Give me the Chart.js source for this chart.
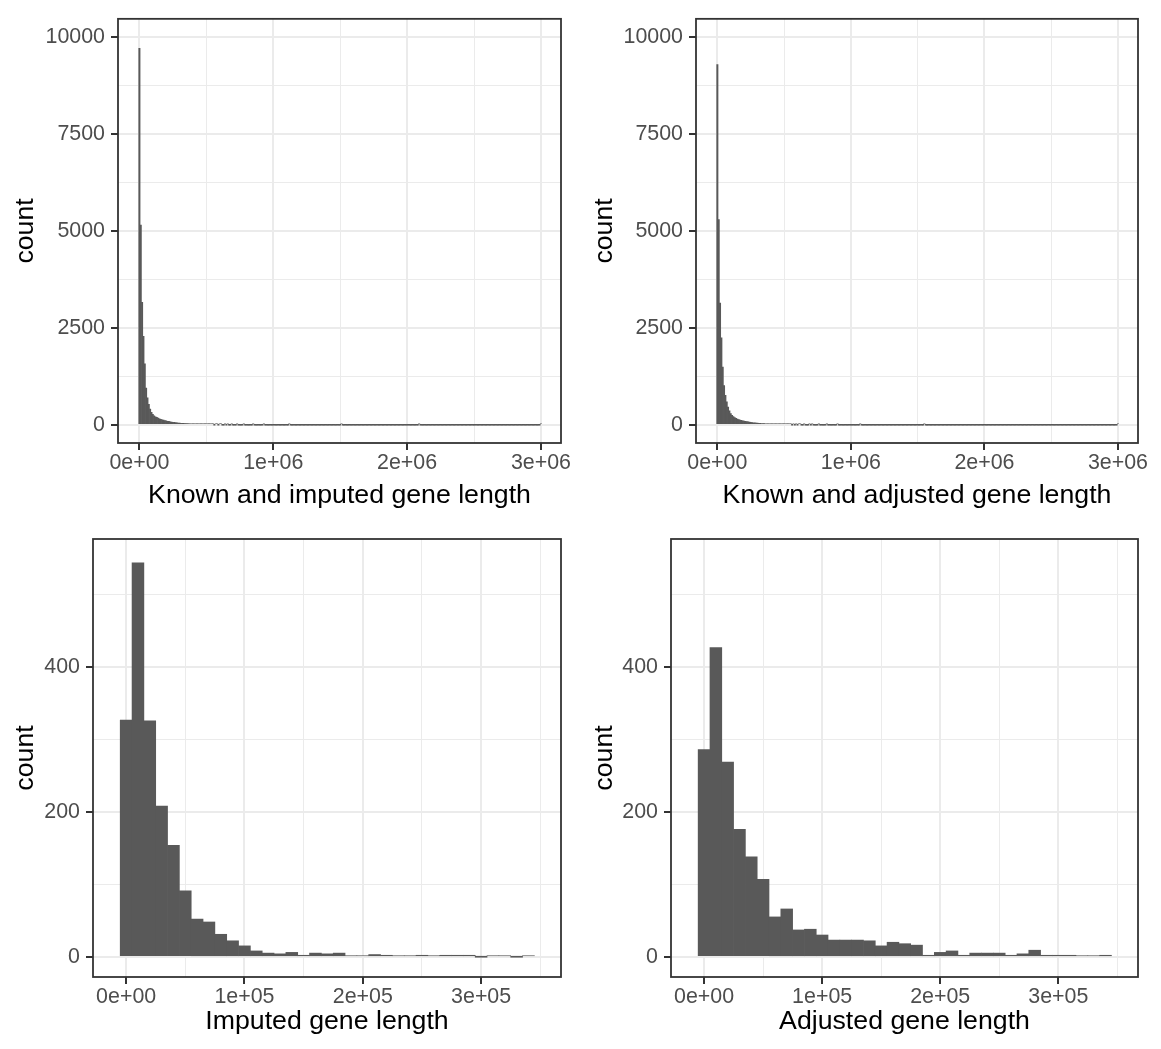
<!DOCTYPE html>
<html><head><meta charset="utf-8">
<script src="https://cdn.jsdelivr.net/npm/chart.js@4/dist/chart.umd.min.js"></script>
<style>
html,body{margin:0;padding:0;background:#ffffff;}
#wrap{position:relative;width:1161px;height:1049px;overflow:hidden;}
.cell{position:absolute;}
canvas{display:block;}
</style></head><body>
<div id="wrap">
  <div class="cell" style="left:0px;top:0px;width:580px;height:520px"><canvas id="c1" width="580" height="520"></canvas></div>
  <div class="cell" style="left:580px;top:0px;width:581px;height:520px"><canvas id="c2" width="581" height="520"></canvas></div>
  <div class="cell" style="left:0px;top:520px;width:580px;height:529px"><canvas id="c3" width="580" height="529"></canvas></div>
  <div class="cell" style="left:580px;top:520px;width:581px;height:529px"><canvas id="c4" width="581" height="529"></canvas></div>
</div>
<script>
// ---------------- DATA ----------------
// histogram bins: centred at multiples of binWidth, starting at 0
const binWidth = 10000;
const binStart = 0;

// Known and imputed gene length (bins 0 .. 300, i.e. 0 .. 3e6)
const countsKnownImputed = [
  9710,5150,3160,2280,1570,945,695,527,405,318,270,232,205,190,170,152,140,128,118,108,
  100,92,86,78,72,66,60,56,50,46,44,40,38,35,33,30,28,26,24,22,
  20,18,16,8,5,4,3,3,2,3,1,2,2,1,1,2,0,1,1,0,
  1,1,0,0,1,0,1,0,0,1,0,0,0,1,0,0,0,0,1,0,
  0,0,0,0,0,1,0,0,0,0,0,0,0,1,0,0,0,0,0,0,
  0,0,0,0,0,0,0,0,0,0,0,0,1,0,0,0,0,0,0,0,
  0,0,0,0,0,0,0,0,0,0,0,0,0,0,0,0,0,0,0,0,
  0,0,0,0,0,0,0,0,0,0,0,1,0,0,0,0,0,0,0,0,
  0,0,0,0,0,0,0,0,0,0,0,0,0,0,0,0,0,0,0,0,
  0,0,0,0,0,0,0,0,0,0,0,0,0,0,0,0,0,0,0,0,
  0,0,0,0,0,0,0,0,0,1,0,0,0,0,0,0,0,0,0,0,
  0,0,0,0,0,0,0,0,0,0,0,0,0,0,0,0,0,0,0,0,
  0,0,0,0,0,0,0,0,0,0,0,0,0,0,0,0,0,0,0,0,
  0,0,0,0,0,0,0,0,0,0,0,0,0,0,0,0,0,0,0,0,
  0,0,0,0,0,0,0,0,0,0,0,0,0,0,0,0,0,0,0,0,
  1
];

// Known and adjusted gene length (bins 0 .. 300)
const countsKnownAdjusted = [
  9290,5290,3140,2240,1490,1010,760,590,455,360,290,245,212,185,165,148,135,122,112,102,
  95,88,80,74,68,62,57,52,48,44,41,38,35,32,30,28,26,24,21,19,
  17,15,10,6,4,4,3,2,3,2,1,2,1,1,2,1,0,1,0,1,
  0,1,1,0,0,1,0,0,0,1,0,1,0,0,0,0,1,0,0,0,
  0,0,1,0,0,0,0,0,0,0,1,0,0,0,0,0,0,0,0,0,
  0,0,0,0,0,0,0,1,0,0,0,0,0,0,0,0,0,0,0,0,
  0,0,0,0,0,0,0,0,0,0,0,0,0,0,0,0,0,0,0,0,
  0,0,0,0,0,0,0,0,0,0,0,0,0,0,0,1,0,0,0,0,
  0,0,0,0,0,0,0,0,0,0,0,0,0,0,0,0,0,0,0,0,
  0,0,0,0,0,0,0,0,0,0,0,0,0,0,0,0,0,0,0,0,
  0,0,0,0,0,0,0,0,0,0,0,0,0,0,0,0,0,0,0,0,
  0,0,0,0,0,0,0,0,0,0,0,0,0,0,0,0,0,0,0,0,
  0,0,0,0,0,0,0,0,0,0,0,0,0,0,0,0,0,0,0,0,
  0,0,0,0,0,0,0,0,0,0,0,0,0,0,0,0,0,0,0,0,
  0,0,0,0,0,0,0,0,0,0,0,0,0,0,0,0,0,0,0,0,
  1
];

// Imputed gene length (bins 0 .. 34, i.e. 0 .. 340000)
const countsImputed = [327,544,326,208,154,91,52,48,31,22,15,8,5,4,6,2,5,4,5,1,1,3,2,1,1,2,1,2,2,2,0,1,1,0,1];

// Adjusted gene length (bins 0 .. 34)
const countsAdjusted = [286,427,269,176,138,107,55,66,37,38,30,23,23,23,22,15,20,18,16,2,6,8,2,5,5,5,2,4,9,2,2,2,1,1,2];

// axis titles
const xTitles = ["Known and imputed gene length","Known and adjusted gene length","Imputed gene length","Adjusted gene length"];
const yTitle = "count";

// tick values
const topXMajor = [0,1000000,2000000,3000000];
const topXMinor = [500000,1500000,2500000];
const topYMajor = [0,2500,5000,7500,10000];
const topYMinor = [1250,3750,6250,8750];
const botXMajor = [0,100000,200000,300000];
const botXMinor = [50000,150000,250000,350000];
const botYMajor = [0,200,400];
const botYMinor = [100,300,500];

// ---------------- STYLE / HELPERS ----------------
const FONT = "'Liberation Sans', Arial, Helvetica, sans-serif";
const BAR = '#595959';

function sci(v){
  if (v === 0) return '0e+00';
  const e = Math.floor(Math.log10(Math.abs(v)) + 1e-9);
  const m = Math.round(v / Math.pow(10, e) * 100) / 100;
  return m + 'e' + (e < 0 ? '-' : '+') + String(Math.abs(e)).padStart(2, '0');
}

const panelBorder = {
  id: 'panelBorder',
  afterDraw(chart){
    const {ctx, chartArea: a} = chart;
    ctx.save();
    ctx.strokeStyle = '#333333';
    ctx.lineWidth = 1.8;
    ctx.strokeRect(a.left, a.top, a.right - a.left, a.bottom - a.top);
    ctx.restore();
  }
};

function axisCfg(o){
  const all = o.major.concat(o.minor).sort((a,b)=>a-b);
  const isMajor = v => o.major.indexOf(v) >= 0;
  return {
    type: 'linear',
    min: o.min, max: o.max,
    offset: false,
    afterBuildTicks: s => { s.ticks = all.map(v => ({value: v})); },
    afterFit: s => { if (o.horizontal) s.height = o.size; else s.width = o.size; },
    border: {display: false},
    grid: {
      offset: false,
      color: '#EBEBEB',
      lineWidth: c => (c.tick && isMajor(c.tick.value)) ? 2 : 1,
      tickColor: c => (c.tick && isMajor(c.tick.value)) ? '#333333' : 'rgba(0,0,0,0)',
      tickWidth: 2,
      tickLength: 7,
      drawTicks: true
    },
    ticks: {
      autoSkip: false,
      maxRotation: 0, minRotation: 0,
      padding: o.tickPad,
      color: '#4D4D4D',
      font: {family: FONT, size: 21.4},
      callback: v => isMajor(v) ? o.fmt(v) : ''
    },
    title: {
      display: true,
      text: o.title,
      color: '#000000',
      font: {family: FONT, size: 26.7},
      padding: o.titlePad
    }
  };
}

function makeHist(id, counts, cfg){
  const pts = counts.map((c, i) => ({x: binStart + i * binWidth, y: c}));
  return new Chart(document.getElementById(id), {
    type: 'bar',
    data: {datasets: [{
      data: pts,
      backgroundColor: BAR,
      borderWidth: 0,
      barPercentage: 1.0,
      categoryPercentage: 1.0,
      minBarLength: 1
    }]},
    options: {
      responsive: false,
      animation: false,
      devicePixelRatio: 1,
      layout: {padding: cfg.padding},
      plugins: {legend: {display: false}, tooltip: {enabled: false}},
      scales: {
        x: axisCfg({horizontal: true, size: cfg.xSize, min: cfg.xMin, max: cfg.xMax,
                    major: cfg.xMajor, minor: cfg.xMinor, fmt: sci, tickPad: 0,
                    title: cfg.xTitle, titlePad: {top: 0, bottom: cfg.xTitlePad}}),
        y: axisCfg({horizontal: false, size: cfg.ySize, min: cfg.yMin, max: cfg.yMax,
                    major: cfg.yMajor, minor: cfg.yMinor, fmt: v => String(v), tickPad: 6,
                    title: yTitle, titlePad: {top: cfg.yTitlePad, bottom: 0}})
      }
    },
    plugins: [panelBorder]
  });
}

makeHist('c1', countsKnownImputed, {
  padding: {top: 7, right: 19, left: 0, bottom: 0}, xSize: 77, ySize: 118,
  xMin: -160000, xMax: 3150000, xMajor: topXMajor, xMinor: topXMinor,
  yMin: -470, yMax: 10470, yMajor: topYMajor, yMinor: topYMinor,
  xTitle: xTitles[0], xTitlePad: 8, yTitlePad: 10
});
makeHist('c2', countsKnownAdjusted, {
  padding: {top: 7, right: 23, left: 0, bottom: 0}, xSize: 77, ySize: 116,
  xMin: -160000, xMax: 3150000, xMajor: topXMajor, xMinor: topXMinor,
  yMin: -470, yMax: 10470, yMajor: topYMajor, yMinor: topYMinor,
  xTitle: xTitles[1], xTitlePad: 8, yTitlePad: 9
});
makeHist('c3', countsImputed, {
  padding: {top: 19, right: 19, left: 0, bottom: 0}, xSize: 72, ySize: 93,
  xMin: -28000, xMax: 367500, xMajor: botXMajor, xMinor: botXMinor,
  yMin: -28, yMax: 577, yMajor: botYMajor, yMinor: botYMinor,
  xTitle: xTitles[2], xTitlePad: 11.5, yTitlePad: 10
});
makeHist('c4', countsAdjusted, {
  padding: {top: 19, right: 23, left: 0, bottom: 0}, xSize: 72, ySize: 91,
  xMin: -28000, xMax: 367500, xMajor: botXMajor, xMinor: botXMinor,
  yMin: -28, yMax: 577, yMajor: botYMajor, yMinor: botYMinor,
  xTitle: xTitles[3], xTitlePad: 11.5, yTitlePad: 9
});
</script>
</body></html>
